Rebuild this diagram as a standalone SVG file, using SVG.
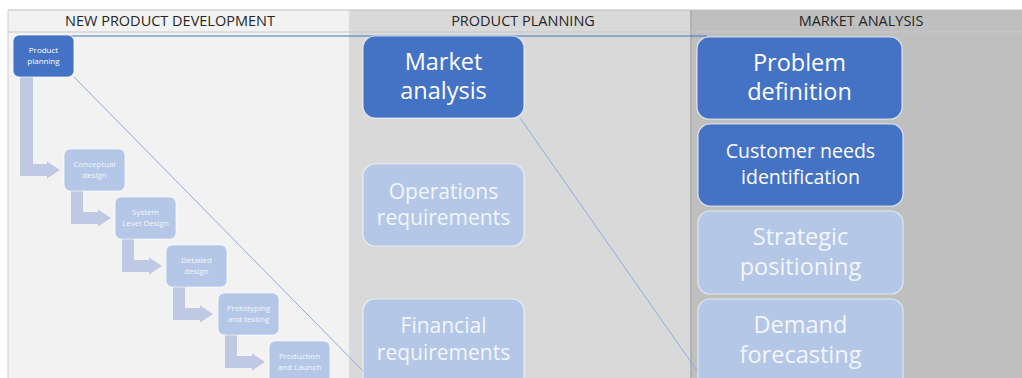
<svg xmlns="http://www.w3.org/2000/svg" width="1022" height="378" viewBox="0 0 1022 378">
<style>
.hdr{font-family:"Open Sans","Liberation Sans",sans-serif;font-size:14.5px;fill:#262626;text-anchor:middle}
.big{font-family:"Open Sans","Liberation Sans",sans-serif;font-size:23.5px;fill:#ffffff;text-anchor:middle}
.mid{font-family:"Open Sans","Liberation Sans",sans-serif;font-size:21px;fill:#ffffff;text-anchor:middle}
.cust{font-family:"Open Sans","Liberation Sans",sans-serif;font-size:19.5px;fill:#ffffff;text-anchor:middle}
.sm{font-family:"Open Sans","Liberation Sans",sans-serif;font-size:8px;fill:#ffffff;text-anchor:middle}
.lt{fill:#f3f6fb}
.dark{fill:#4472C4;stroke:#ffffff;stroke-opacity:0.7;stroke-width:1.2}
.light{fill:#B4C7E7;stroke:#ffffff;stroke-opacity:0.6;stroke-width:1.2}
.arrow{fill:#BFC9E3}
.conn{fill:none;stroke:#8FAADC;stroke-width:1}
</style>
<rect x="0" y="0" width="1022" height="378" fill="#ffffff"/>
<g id="panels">
<rect x="8" y="10" width="341" height="368" fill="#F2F2F2"/>
<rect x="349" y="10" width="342" height="368" fill="#D9D9D9"/>
<rect x="691" y="10" width="331" height="368" fill="#BFBFBF"/>
<line x1="691" y1="10" x2="691" y2="378" stroke="#A8A8A8" stroke-width="1.5"/>
<line x1="349" y1="10" x2="349" y2="378" stroke="#E6E6E6" stroke-width="1"/>
<line x1="8" y1="10" x2="1022" y2="10" stroke="#BFBFBF" stroke-width="1"/>
<line x1="8" y1="32" x2="1022" y2="32" stroke="#C8C8C8" stroke-width="1"/>
<line x1="8" y1="10" x2="8" y2="378" stroke="#D0D0D0" stroke-width="1"/>
<text class="hdr" x="170" y="26">NEW PRODUCT DEVELOPMENT</text>
<text class="hdr" x="523" y="26">PRODUCT PLANNING</text>
<text class="hdr" x="861" y="26">MARKET ANALYSIS</text>
</g>
<g id="process-arrows">
<path class="arrow" d="M20,77 L33,77 L33,164 L47,164 L47,161.5 L60,170 L47,178.5 L47,176 L20,176 Z"/>
<path class="arrow" d="M71,191 L83,191 L83,212 L98,212 L98,209.5 L111,218 L98,226.5 L98,224 L71,224 Z"/>
<path class="arrow" d="M122,239 L134,239 L134,260 L149,260 L149,257.5 L162,266 L149,274.5 L149,272 L122,272 Z"/>
<path class="arrow" d="M173,287 L185,287 L185,308 L200,308 L200,305.5 L213,314 L200,322.5 L200,320 L173,320 Z"/>
<path class="arrow" d="M225,335 L237,335 L237,356 L252,356 L252,353.5 L265,362 L252,370.5 L252,368 L225,368 Z"/>
</g>
<g id="connectors">
<line x1="70" y1="36" x2="707" y2="36" stroke="#4472C4" stroke-width="1"/>
<line class="conn" x1="74" y1="77" x2="363" y2="371"/>
<line class="conn" x1="520" y1="118" x2="698" y2="372"/>
</g>
<g id="node-product-planning">
<rect class="dark" x="13" y="35" width="61" height="42" rx="6"/>
<text class="sm" x="43.5" y="53">Product</text>
<text class="sm" x="43.5" y="64">planning</text>
</g>
<g id="node-conceptual-design">
<rect class="light" x="64" y="149" width="61" height="42" rx="6"/>
<text class="sm lt" x="94.5" y="167">Conceptual</text>
<text class="sm lt" x="94.5" y="178">design</text>
</g>
<g id="node-system-level-design">
<rect class="light" x="115" y="197" width="61" height="42" rx="6"/>
<text class="sm lt" x="145.5" y="215">System</text>
<text class="sm lt" x="145.5" y="226">Level Design</text>
</g>
<g id="node-detailed-design">
<rect class="light" x="166" y="245" width="61" height="42" rx="6"/>
<text class="sm lt" x="196.5" y="263">Detailed</text>
<text class="sm lt" x="196.5" y="274">design</text>
</g>
<g id="node-prototyping">
<rect class="light" x="218" y="293" width="61" height="42" rx="6"/>
<text class="sm lt" x="248.5" y="311">Prototyping</text>
<text class="sm lt" x="248.5" y="322">and testing</text>
</g>
<g id="node-production">
<rect class="light" x="269" y="341" width="61" height="42" rx="6"/>
<text class="sm lt" x="299.5" y="359">Production</text>
<text class="sm lt" x="299.5" y="370">and Launch</text>
</g>
<g id="node-market-analysis">
<rect class="dark" x="363" y="36" width="161" height="82" rx="12"/>
<text class="big" x="443.5" y="70">Market</text>
<text class="big" x="443.5" y="99">analysis</text>
</g>
<g id="node-operations">
<rect class="light" x="363" y="164" width="161" height="82" rx="12"/>
<text class="mid lt" x="443.5" y="199">Operations</text>
<text class="mid lt" x="443.5" y="225">requirements</text>
</g>
<g id="node-financial">
<rect class="light" x="363" y="299" width="161" height="90" rx="12"/>
<text class="mid lt" x="443.5" y="333">Financial</text>
<text class="mid lt" x="443.5" y="360">requirements</text>
</g>
<g id="node-problem-definition">
<rect class="dark" x="697" y="37" width="205" height="82" rx="12"/>
<text class="big" x="799.5" y="71">Problem</text>
<text class="big" x="799.5" y="100">definition</text>
</g>
<g id="node-customer-needs">
<rect class="dark" x="698" y="124" width="205" height="82" rx="12"/>
<text class="cust" x="800.5" y="158">Customer needs</text>
<text class="cust" x="800.5" y="184">identification</text>
</g>
<g id="node-strategic-positioning">
<rect class="light" x="698" y="211" width="205" height="83" rx="12"/>
<text class="big lt" x="800.5" y="245">Strategic</text>
<text class="big lt" x="800.5" y="275">positioning</text>
</g>
<g id="node-demand-forecasting">
<rect class="light" x="698" y="299" width="205" height="90" rx="12"/>
<text class="big lt" x="800.5" y="333">Demand</text>
<text class="big lt" x="800.5" y="363">forecasting</text>
</g>
</svg>
